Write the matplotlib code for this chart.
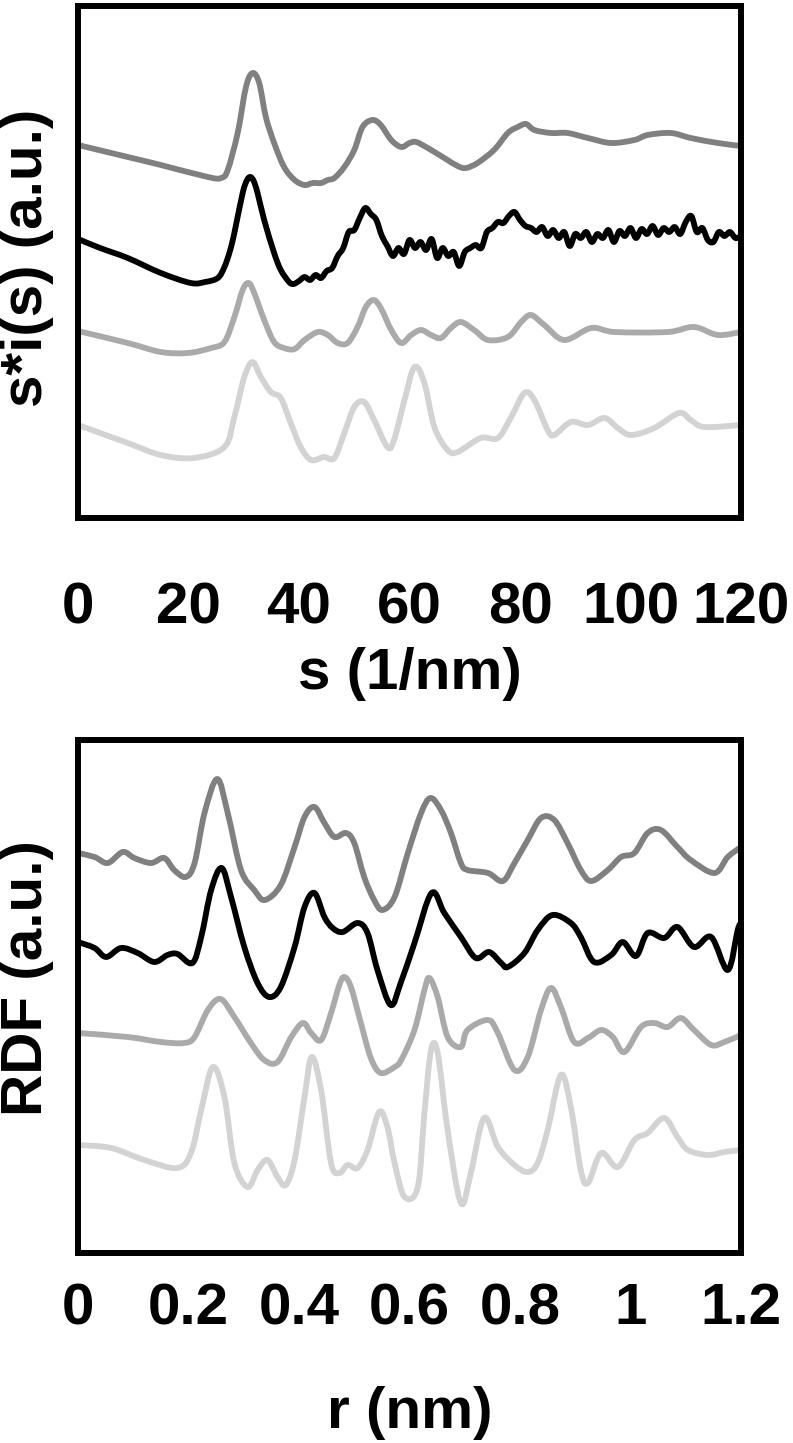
import matplotlib
matplotlib.use('Agg')
import matplotlib.pyplot as plt
from matplotlib.path import Path
from matplotlib.patches import PathPatch

plt.rcParams['font.family'] = ['Liberation Sans', 'DejaVu Sans']
plt.rcParams['font.weight'] = 'bold'

# ---------------- top panel: s*i(s) ----------------
s_ticks = [0, 20, 40, 60, 80, 100, 120]
s_tick_labels = ['0', '20', '40', '60', '80', '100', '120']

s_a = [0, 9.0, 15.0, 23.5, 25.9, 27.1, 28.9, 30.4, 31.6, 32.8, 34.0, 35.5, 37.3, 39.2, 41.0,
       42.5, 44.0, 45.2, 46.4, 48.2, 50.0, 51.5, 53.3, 54.8, 56.7, 58.5, 60.0, 61.2, 63.3,
       66.3, 68.7, 70.2, 72.3, 75.3, 77.8, 79.6, 81.1, 82.6, 85.6, 88.6, 92.3, 96.5, 100.7,
       103.1, 107.3, 110.9, 115.8, 120]
y_a = [3.73, 3.61, 3.53, 3.41, 3.40, 3.48, 3.85, 4.31, 4.45, 4.35, 4.01, 3.75, 3.51, 3.38, 3.33,
       3.35, 3.35, 3.38, 3.40, 3.51, 3.68, 3.91, 3.98, 3.93, 3.78, 3.71, 3.75, 3.76, 3.70,
       3.60, 3.52, 3.50, 3.55, 3.68, 3.85, 3.91, 3.94, 3.88, 3.85, 3.85, 3.80, 3.75, 3.78,
       3.83, 3.85, 3.80, 3.75, 3.72]

s_b = [0, 4, 9, 15, 20.4, 23, 25.3, 26.5, 27.5, 28.3, 29.8, 30.6, 31.2, 31.8, 32.5, 33.7, 35.5,
       36.7, 38.2, 39.0,
       40, 41, 42, 43, 44, 45, 46, 47, 48, 49, 50, 51, 52, 53, 54, 55, 56, 57, 58, 59, 60,
       61, 62, 63, 64, 65, 66, 67, 68, 69, 70, 71, 72, 73, 74, 75, 76, 77, 78, 79, 80,
       81, 82, 83, 84, 85, 86, 87, 88, 89, 90, 91, 92, 93, 94, 95, 96, 97, 98, 99, 100,
       101, 102, 103, 104, 105, 106, 107, 108, 109, 110, 111, 112, 113, 114, 115, 116, 117,
       118, 119, 120]
y_b = [2.79, 2.70, 2.60, 2.45, 2.35, 2.36, 2.40, 2.51, 2.67, 2.85, 3.25, 3.38, 3.41, 3.37, 3.25,
       2.98, 2.65, 2.48, 2.36, 2.34,
       2.37, 2.41, 2.38, 2.43, 2.40, 2.47, 2.50, 2.62, 2.70, 2.86, 2.88, 3.00, 3.10, 3.04,
       2.98, 2.82, 2.72, 2.62, 2.70, 2.64, 2.78, 2.70, 2.76, 2.68, 2.79, 2.60, 2.70, 2.62,
       2.66, 2.52, 2.66, 2.70, 2.73, 2.70, 2.86, 2.90, 2.96, 2.95, 3.02, 3.06, 2.98,
       2.92, 2.90, 2.86, 2.91, 2.82, 2.88, 2.80, 2.86, 2.72, 2.84, 2.80, 2.86, 2.76, 2.84,
       2.80, 2.88, 2.76, 2.87, 2.82, 2.90, 2.80, 2.89, 2.84, 2.92, 2.83, 2.90, 2.86, 2.91,
       2.84, 2.96, 3.02, 2.86, 2.90, 2.78, 2.76, 2.86, 2.82, 2.86, 2.80, 2.82]

s_c = [0, 9.0, 15.0, 19.9, 24.1, 26.5, 28.3, 29.8, 30.9, 31.9, 33.7, 35.5, 37.3, 39.2, 41.0,
       43.4, 45.2, 47.0, 48.8, 50.6, 52.1, 53.5, 54.8, 56.7, 58.5, 60.3, 62.1, 63.9, 65.7,
       67.5, 69.3, 71.7, 74.2, 77.8, 80.2, 82.0, 84.4, 88.0, 92.9, 97.1, 106.7, 111.5,
       115.8, 120]
y_c = [1.87, 1.75, 1.66, 1.65, 1.70, 1.76, 2.01, 2.28, 2.35, 2.25, 1.98, 1.76, 1.70, 1.69, 1.78,
       1.86, 1.83, 1.75, 1.75, 1.91, 2.11, 2.18, 2.10, 1.88, 1.75, 1.83, 1.88, 1.83, 1.80,
       1.90, 1.96, 1.88, 1.78, 1.81, 1.96, 2.03, 1.93, 1.78, 1.90, 1.86, 1.86, 1.91,
       1.83, 1.86]

s_d = [0, 9.0, 15.0, 21.0, 26.5, 28.3, 30.1, 31.6, 33.1, 34.9, 36.7, 38.5, 40.3, 42.2, 44.5,
       46.4, 48.2, 50.0, 51.8, 53.6, 56.0, 57.2, 59.1, 60.9, 62.7, 64.5, 66.9, 68.7, 72.9,
       76.0, 78.4, 80.8, 82.6, 85.0, 86.2, 89.2, 92.3, 95.3, 97.7, 100.1, 104.3, 108.8,
       110.9, 113.4, 120]
y_d = [0.93, 0.75, 0.63, 0.60, 0.71, 1.01, 1.41, 1.56, 1.41, 1.26, 1.20, 0.95, 0.71, 0.58, 0.61,
       0.60, 0.85, 1.11, 1.16, 0.98, 0.71, 0.78, 1.18, 1.51, 1.35, 0.91, 0.68, 0.66, 0.80,
       0.80, 1.01, 1.25, 1.18, 0.88, 0.83, 0.96, 0.93, 1.00, 0.90, 0.83, 0.90, 1.05,
       0.98, 0.91, 0.93]

# ---------------- bottom panel: RDF ----------------
r_ticks = [0, 0.2, 0.4, 0.6, 0.8, 1.0, 1.2]
r_tick_labels = ['0', '0.2', '0.4', '0.6', '0.8', '1', '1.2']

r_a = [0, 0.030, 0.054, 0.081, 0.102, 0.132, 0.156, 0.174, 0.195, 0.211, 0.229, 0.252, 0.271,
       0.295, 0.319, 0.338, 0.367, 0.392, 0.410, 0.428, 0.446, 0.464, 0.485, 0.500, 0.518,
       0.536, 0.551, 0.573, 0.597, 0.621, 0.638, 0.657, 0.675, 0.693, 0.705, 0.742, 0.769,
       0.790, 0.814, 0.838, 0.862, 0.886, 0.910, 0.929, 0.959, 0.983, 1.007, 1.031, 1.055,
       1.085, 1.109, 1.152, 1.176, 1.200]
g_a = [4.00, 3.96, 3.90, 4.01, 3.95, 3.90, 3.95, 3.83, 3.76, 3.90, 4.40, 4.74, 4.40,
       3.83, 3.63, 3.53, 3.68, 4.06, 4.36, 4.46, 4.30, 4.16, 4.20, 4.10, 3.76,
       3.53, 3.43, 3.56, 4.00, 4.40, 4.55, 4.43, 4.20, 3.90, 3.83, 3.80, 3.72,
       3.90, 4.13, 4.35, 4.33, 4.10, 3.83, 3.72, 3.83, 3.96, 4.00, 4.20, 4.23,
       4.06, 3.93, 3.80, 3.96, 4.06]

r_b = [0, 0.030, 0.051, 0.078, 0.108, 0.138, 0.162, 0.180, 0.207, 0.223, 0.241, 0.260, 0.277,
       0.301, 0.325, 0.346, 0.367, 0.392, 0.410, 0.428, 0.446, 0.461, 0.479, 0.506, 0.524,
       0.542, 0.566, 0.584, 0.609, 0.640, 0.663, 0.693, 0.720, 0.744, 0.766, 0.778, 0.808,
       0.832, 0.859, 0.892, 0.910, 0.934, 0.965, 0.986, 1.010, 1.031, 1.061, 1.085, 1.115,
       1.146, 1.176, 1.194, 1.200]
g_b = [3.11, 3.05, 2.96, 3.05, 3.00, 2.91, 2.98, 2.99, 2.90, 3.16, 3.63, 3.85, 3.56,
       3.06, 2.70, 2.56, 2.66, 3.06, 3.46, 3.60, 3.36, 3.25, 3.21, 3.30, 3.20,
       2.83, 2.48, 2.70, 3.10, 3.60, 3.40, 3.16, 2.95, 3.01, 2.90, 2.86, 3.00,
       3.23, 3.38, 3.30, 3.16, 2.91, 2.98, 3.11, 2.97, 3.20, 3.15, 3.26, 3.06,
       3.16, 2.83, 3.23, 3.30]

r_c = [0, 0.090, 0.150, 0.192, 0.211, 0.235, 0.258, 0.283, 0.313, 0.337, 0.361, 0.386, 0.407,
       0.422, 0.440, 0.458, 0.473, 0.482, 0.494, 0.512, 0.530, 0.548, 0.573, 0.585, 0.609,
       0.627, 0.636, 0.651, 0.669, 0.693, 0.705, 0.742, 0.760, 0.790, 0.814, 0.838, 0.856,
       0.874, 0.898, 0.923, 0.947, 0.968, 0.989, 1.019, 1.043, 1.067, 1.091, 1.115, 1.146,
       1.170, 1.200]
g_c = [2.20, 2.16, 2.11, 2.10, 2.16, 2.43, 2.54, 2.36, 2.10, 1.93, 1.91, 2.16, 2.30,
       2.20, 2.13, 2.40, 2.68, 2.76, 2.66, 2.30, 1.95, 1.80, 1.86, 1.93, 2.23,
       2.63, 2.75, 2.56, 2.16, 2.06, 2.23, 2.33, 2.20, 1.83, 1.96, 2.43, 2.65,
       2.46, 2.11, 2.15, 2.23, 2.16, 2.01, 2.26, 2.30, 2.26, 2.35, 2.23, 2.08,
       2.11, 2.18]

r_d = [0, 0.060, 0.120, 0.180, 0.205, 0.223, 0.244, 0.265, 0.283, 0.307, 0.325, 0.343, 0.361,
       0.376, 0.392, 0.410, 0.423, 0.440, 0.458, 0.473, 0.488, 0.506, 0.524, 0.545, 0.560,
       0.573, 0.591, 0.615, 0.627, 0.639, 0.651, 0.669, 0.693, 0.711, 0.735, 0.760, 0.790,
       0.814, 0.832, 0.850, 0.874, 0.892, 0.910, 0.923, 0.947, 0.977, 1.007, 1.031, 1.061,
       1.085, 1.104, 1.140, 1.170, 1.200]
g_d = [1.08, 1.05, 0.93, 0.85, 1.01, 1.43, 1.86, 1.56, 0.90, 0.66, 0.83, 0.93, 0.76,
       0.68, 0.93, 1.56, 1.96, 1.63, 0.90, 0.80, 0.88, 0.85, 1.03, 1.41, 1.26,
       0.90, 0.56, 0.66, 1.40, 2.03, 2.00, 1.23, 0.50, 0.80, 1.35, 1.06, 0.88,
       0.81, 0.90, 1.23, 1.78, 1.46, 0.83, 0.70, 1.00, 0.86, 1.13, 1.20, 1.35,
       1.16, 1.03, 0.98, 1.01, 1.03]

colors = ['#808080', '#000000', '#aaaaaa', '#d3d3d3']
LW = 4.2


def smooth_line(ax, xs, ys, color, smooth=True):
    """Draw a smoothed (Bezier, spreadsheet-style) line through the data points."""
    if not smooth:
        ax.plot(xs, ys, color=color, lw=LW, solid_joinstyle='round')
        return
    n = len(xs)
    verts = [(xs[0], ys[0])]
    codes = [Path.MOVETO]
    for i in range(n - 1):
        i0 = max(i - 1, 0)
        i3 = min(i + 2, n - 1)
        c1 = (xs[i] + (xs[i + 1] - xs[i0]) / 6.0, ys[i] + (ys[i + 1] - ys[i0]) / 6.0)
        c2 = (xs[i + 1] - (xs[i3] - xs[i]) / 6.0, ys[i + 1] - (ys[i3] - ys[i]) / 6.0)
        verts += [c1, c2, (xs[i + 1], ys[i + 1])]
        codes += [Path.CURVE4] * 3
    patch = PathPatch(Path(verts, codes), facecolor='none', edgecolor=color, lw=LW,
                      joinstyle='round', capstyle='butt')
    ax.add_patch(patch)


W, H = 793, 1443
fig = plt.figure(figsize=(W / 100, H / 100), dpi=100)
ax1 = fig.add_axes([78 / W, 1 - 518 / H, 663 / W, 512 / H])
ax2 = fig.add_axes([78 / W, 1 - 1253 / H, 663 / W, 513 / H])

for xs, ys, c in zip([s_a, s_b, s_c, s_d], [y_a, y_b, y_c, y_d], colors):
    smooth_line(ax1, xs, ys, c)
for xs, ys, c in zip([r_a, r_b, r_c, r_d], [g_a, g_b, g_c, g_d], colors):
    smooth_line(ax2, xs, ys, c)

ax1.set_xlim(0, 120)
ax1.set_ylim(0, 5.12)
ax2.set_xlim(0, 1.2)
ax2.set_ylim(0, 5.13)

ax1.set_xticks(s_ticks)
ax1.set_xticklabels(s_tick_labels)
ax2.set_xticks(r_ticks)
ax2.set_xticklabels(r_tick_labels)

ax1.tick_params(axis='x', length=0, pad=46, labelsize=42)
ax2.tick_params(axis='x', length=0, pad=21, labelsize=42)
for ax in (ax1, ax2):
    ax.set_yticks([])
    for sp in ax.spines.values():
        sp.set_linewidth(4.3)
        sp.set_color('black')
        sp.set_zorder(5)
    for lab in ax.get_xticklabels():
        lab.set_fontweight('bold')

ax1.set_xlabel('s (1/nm)', fontsize=42, fontweight='bold', labelpad=8)
ax2.set_xlabel('r (nm)', fontsize=42, fontweight='bold', labelpad=36)

fig.text(27 / W, 1 - 258 / H, 's*i(s) (a.u.)', rotation=90, ha='center', va='center',
         fontsize=42, fontweight='bold')
fig.text(27 / W, 1 - 978 / H, 'RDF (a.u.)', rotation=90, ha='center', va='center',
         fontsize=42, fontweight='bold')

fig.savefig('out.png', dpi=100)
